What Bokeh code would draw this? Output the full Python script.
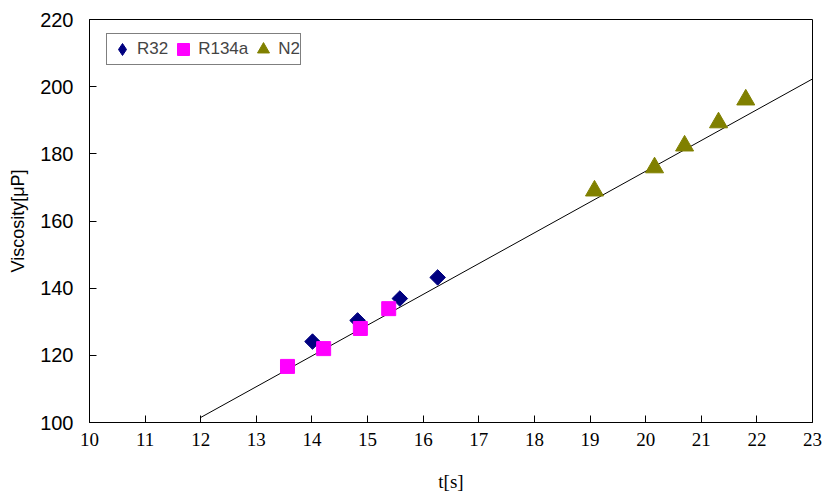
import math
from bokeh.plotting import figure
from bokeh.models import Range1d, Legend, LegendItem, FixedTicker
from bokeh.embed import file_html
from bokeh.resources import INLINE

# Data
r32_t = [14.01, 14.82, 15.58, 16.26]
r32_v = [124.1, 130.4, 136.9, 143.2]
r134a_t = [13.56, 14.21, 14.87, 15.38]
r134a_v = [116.7, 122.0, 128.0, 133.9]
n2_t = [19.08, 20.16, 20.70, 21.31, 21.80]
n2_v = [169.0, 175.9, 182.4, 189.3, 196.1]
fit_t = [12.0, 23.0]
fit_v = [101.5, 202.3]
x_ticks = list(range(10, 24))
y_ticks = [100, 120, 140, 160, 180, 200, 220]

p = figure(width=827, height=494, output_backend="svg", toolbar_location=None,
           x_range=Range1d(10, 23), y_range=Range1d(100, 220),
           min_border_left=89, min_border_right=15, min_border_top=19, min_border_bottom=72)
p.xgrid.visible = False
p.ygrid.visible = False
p.outline_line_color = "black"
p.outline_line_width = 1
p.background_fill_color = "white"
p.border_fill_color = "white"

fit = p.line(fit_t, fit_v, line_color="black", line_width=1)
# diamond glyph (used for the legend entry), hidden under the rotated squares
g1_leg = p.scatter(r32_t, r32_v, marker="diamond", size=10,
                   fill_color="#000080", line_color="#000080")
g1 = p.scatter(r32_t, r32_v, marker="square", angle=math.pi / 4, size=11,
               fill_color="#000080", line_color="#000080")
g2 = p.scatter(r134a_t, r134a_v, marker="square", size=14, fill_color="#FF00FF", line_color="#FF00FF")
g3 = p.scatter(n2_t, n2_v, marker="triangle", size=18, fill_color="#808000", line_color="#808000")

for ax in (p.xaxis[0], p.yaxis[0]):
    ax.major_tick_in = 7
    ax.major_tick_out = 0
    ax.minor_tick_line_color = None
    ax.axis_line_color = "black"
    ax.major_tick_line_color = "black"
    ax.major_label_text_color = "black"
    ax.axis_label_text_font_style = "normal"
    ax.axis_label_text_color = "black"

p.xaxis.ticker = FixedTicker(ticks=x_ticks)
p.yaxis.ticker = FixedTicker(ticks=y_ticks)
p.xaxis.major_label_text_font = "Liberation Sans Narrow"
p.xaxis.major_label_text_font_size = "19px"
p.yaxis.major_label_text_font = "Liberation Sans"
p.yaxis.major_label_text_font_size = "20px"
p.xaxis.axis_label = "t[s]"
p.yaxis.axis_label = "Viscosity[μP]"
p.xaxis.axis_label_text_font = "Liberation Sans Narrow"
p.xaxis.axis_label_text_font_size = "19px"
p.yaxis.axis_label_text_font = "Liberation Sans"
p.yaxis.axis_label_text_font_size = "18px"
p.xaxis.major_label_standoff = 10
p.yaxis.major_label_standoff = 16
p.xaxis.axis_label_standoff = 22
p.yaxis.axis_label_standoff = 9

legend = Legend(items=[LegendItem(label="R32", renderers=[g1_leg]),
                       LegendItem(label="R134a", renderers=[g2]),
                       LegendItem(label="N2", renderers=[g3])],
                orientation="horizontal", location=(17, 357))
legend.border_line_color = "black"
legend.border_line_width = 1
legend.background_fill_alpha = 1
legend.label_text_font = "Liberation Sans"
legend.label_text_font_size = "17px"
legend.glyph_width = 30
legend.glyph_height = 30
legend.label_height = 30
legend.label_standoff = -2
legend.spacing = 0
legend.padding = 0
legend.margin = 0
p.add_layout(legend, "center")

open("out.html", "w").write(file_html(p, INLINE))
